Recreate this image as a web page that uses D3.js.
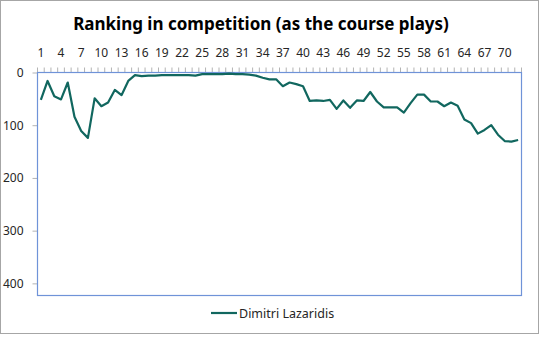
<!DOCTYPE html>
<html>
<head>
<meta charset="utf-8">
<script src="https://cdn.jsdelivr.net/npm/d3@7"></script>
<style>
  html, body { margin: 0; padding: 0; background: #fff; }
  svg { display: block; }
</style>
</head>
<body>
<svg id="chart" width="540" height="337"></svg>
<script>
// Hole numbers as the course plays, and the player's ranking after each one
const holes = d3.range(1, 73);
const tickLabels = d3.range(1, 73, 3);
const rankTicks = [0, 100, 200, 300, 400];
const rankMax = 423;
const seriesName = "Dimitri Lazaridis";
const ranking = [
  52, 16, 45, 51, 19, 84, 111, 124, 49, 64,
  57, 33, 43, 16, 5, 7, 6, 6, 5, 5,
  5, 5, 5, 6, 3, 3, 3, 3, 2, 3,
  3, 4, 6, 10, 13, 13, 26, 19, 22, 26,
  54, 53, 54, 52, 69, 53, 67, 53, 54, 37,
  55, 66, 66, 66, 76, 58, 42, 42, 55, 55,
  64, 57, 63, 89, 96, 116, 109, 100, 118, 130,
  131, 128
];

const svg = d3.select("#chart");
const W = 540, H = 337;
const plot = { left: 37.5, right: 521.5, top: 72.5, bottom: 295.5 };
const lineColor = "#11675f";
const frameColor = "#6f93d8";
const font = "'Noto Sans', 'Open Sans', sans-serif";

// outer chart frame
svg.append("rect")
  .attr("x", 0.5).attr("y", 0.5)
  .attr("width", W - 2).attr("height", H - 4)
  .attr("fill", "#fff").attr("stroke", "#a6a6a6");

// title
svg.append("text")
  .attr("x", 261).attr("y", 30)
  .attr("text-anchor", "middle")
  .attr("font-family", font)
  .attr("font-weight", "bold")
  .attr("font-size", 17)
  .attr("fill", "#000")
  .text("Ranking in competition (as the course plays)");

const x = d3.scaleBand().domain(holes).range([plot.left, plot.right]);
const y = d3.scaleLinear().domain([0, rankMax]).range([plot.top, plot.bottom]);

// top category axis: tick marks on category boundaries, labels every third hole
const topAxis = svg.append("g").attr("transform", `translate(0,${plot.top})`);
topAxis.selectAll("line.tick")
  .data(d3.range(0, holes.length + 1))
  .join("line")
  .attr("x1", i => plot.left + i * x.step())
  .attr("x2", i => plot.left + i * x.step())
  .attr("y1", -5).attr("y2", 0)
  .attr("stroke", "#b3b3b3").attr("stroke-width", 1);
topAxis.selectAll("text")
  .data(tickLabels)
  .join("text")
  .attr("x", d => x(d) + x.bandwidth() / 2)
  .attr("y", -16)
  .attr("text-anchor", "middle")
  .attr("font-family", font)
  .attr("font-size", 12)
  .attr("fill", "#262626")
  .text(d => d);

// left value axis
const leftAxis = svg.append("g").attr("transform", `translate(${plot.left},0)`)
  .call(d3.axisLeft(y).tickValues(rankTicks).tickSize(5).tickPadding(9));
leftAxis.select(".domain").remove();
leftAxis.selectAll(".tick line").attr("stroke", "#b3b3b3");
leftAxis.selectAll(".tick text")
  .attr("font-family", font)
  .attr("font-size", 12)
  .attr("fill", "#262626");

// plot-area border
svg.append("rect")
  .attr("x", plot.left).attr("y", plot.top)
  .attr("width", plot.right - plot.left)
  .attr("height", plot.bottom - plot.top)
  .attr("fill", "none")
  .attr("stroke", frameColor).attr("stroke-width", 1.2);

// ranking line
const line = d3.line()
  .x((d, i) => x(holes[i]) + x.bandwidth() / 2)
  .y(d => y(d));
svg.append("path")
  .datum(ranking)
  .attr("d", line)
  .attr("fill", "none")
  .attr("stroke", lineColor)
  .attr("stroke-width", 2.2)
  .attr("stroke-linejoin", "round");

// legend
const legend = svg.append("g").attr("transform", "translate(211,313)");
legend.append("line")
  .attr("x1", 0).attr("x2", 26).attr("y1", 0).attr("y2", 0)
  .attr("stroke", lineColor).attr("stroke-width", 2.2);
legend.append("text")
  .attr("x", 28).attr("y", 4.5)
  .attr("font-family", font)
  .attr("font-size", 12.5)
  .attr("fill", "#262626")
  .text(seriesName);
</script>
</body>
</html>
